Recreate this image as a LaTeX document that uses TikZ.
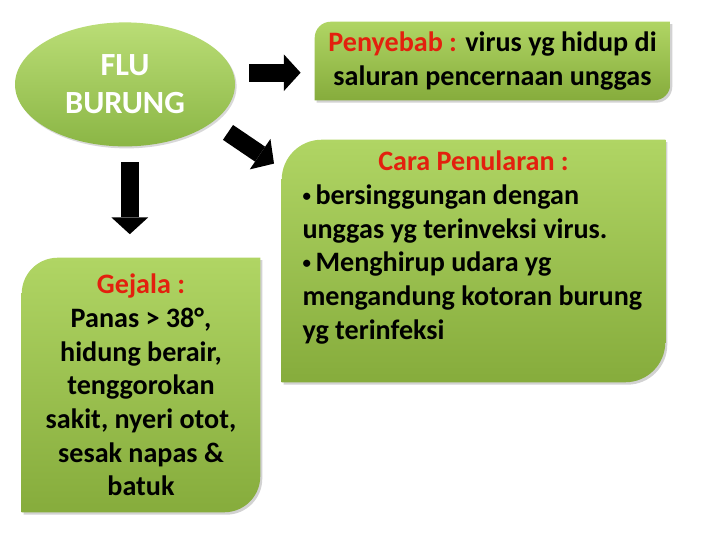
\documentclass[tikz,border=0pt]{standalone}
\usepackage{fontspec}
\setmainfont{Carlito}
\usetikzlibrary{shapes.geometric,arrows.meta,shadows,backgrounds,calc}
\definecolor{leafhi}{HTML}{B0D564}
\definecolor{leaflo}{HTML}{86AC3C}
\definecolor{eggtop}{HTML}{BADD76}
\definecolor{eggbot}{HTML}{8BB645}
\definecolor{titlered}{HTML}{E3200E}
\tikzset{
	boxtext/.style={font=\fontsize{20}{24}\selectfont\bfseries, inner sep=0pt},
	blockarrow/.style={line width=0.45cm, -{Triangle[length=0.42cm,width=0.92cm,line width=0pt]}},
	leaf/.style={top color=leafhi, bottom color=leaflo, drop shadow={shadow xshift=0.05cm,shadow yshift=-0.06cm,opacity=0.35}}
}
% box with two rounded corners (top left, bottom right)
\newcommand{\leafshape}[2]{%
	\path[leaf] ([yshift=-#2]#1.north west) arc (180:90:#2) -- (#1.north east)
		-- ([yshift=#2]#1.south east) arc (0:-90:#2) -- (#1.south west) -- cycle;}
\newcommand{\smallbul}{\raisebox{0.12em}{\fontsize{12}{12}\selectfont •}\,}
\begin{document}
\begin{tikzpicture}
		\useasboundingbox (0,0) rectangle (18,13.5);
		\node[ellipse, minimum width=5.5cm, minimum height=3.1cm, top color=eggtop, bottom color=eggbot,
			drop shadow={shadow xshift=0.04cm,shadow yshift=-0.05cm,opacity=0.3},
			boxtext, font=\fontsize{23}{27}\selectfont\bfseries, text=white, align=center] (flu) at (3.125,11.39) {FLU\\BURUNG};
		\node[boxtext, minimum width=8.875cm, minimum height=1.95cm, align=center] (sebab) at (12.3125,11.975)
			{\textcolor{titlered}{Penyebab :} virus yg hidup di\\saluran pencernaan unggas};
		\node[boxtext, minimum width=9.575cm, minimum height=6.05cm] (cara) at (11.8375,6.975)
			{\begin{minipage}[c][5.5cm][t]{8.55cm}\centering\textcolor{titlered}{Cara Penularan :}\par
			\raggedright \smallbul bersinggungan dengan\\unggas yg terinveksi virus.\\\smallbul Menghirup udara yg\\mengandung kotoran burung\\yg terinfeksi\end{minipage}};
		\node[boxtext, minimum width=5.95cm, minimum height=6.35cm, align=center] (gejala) at (3.525,3.875)
			{\textcolor{titlered}{Gejala :}\\Panas > 38°,\\hidung berair,\\tenggorokan\\sakit, nyeri otot,\\sesak napas \&\\batuk};
		\begin{pgfonlayer}{background}
			\fill[white] (0,0) rectangle (18,13.5);
			\leafshape{sebab}{0.4cm}
			\leafshape{cara}{1cm}
			\leafshape{gejala}{0.9cm}
		\end{pgfonlayer}
		% arrows
		\coordinate (m1) at ($(flu.east)!0.5!(sebab.west)$);
		\coordinate (m2) at ($(flu.south)!0.5!(gejala.north)$);
		\coordinate (m3) at (6.275,9.8);
		\draw[blockarrow] ([xshift=-0.64cm]m1) -- ([xshift=0.64cm]m1);
		\draw[blockarrow] ([xshift=-0.08cm,yshift=1cm]m2) -- ([xshift=-0.08cm,yshift=-0.8cm]m2);
		\draw[blockarrow] ($(m3)+(-0.575,0.39)$) -- ($(m3)+(0.575,-0.39)$);
	\end{tikzpicture}
\end{document}
